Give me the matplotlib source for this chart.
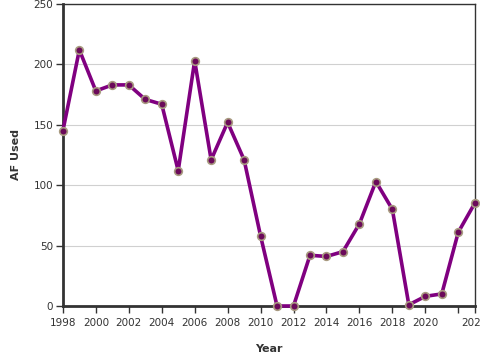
import matplotlib.pyplot as plt

years = list(range(1998, 2024))
af_used = [145, 212, 178, 183, 183, 171, 167, 112, 203, 121, 152, 121, 58,
           0, 0, 42, 41, 45, 68, 103, 80, 1, 8, 10, 61, 85]

xticks = list(range(1998, 2024, 2)) + [2023]
xtick_labels = [str(y) for y in range(1998, 2022, 2)] + ["", "2023"]
yticks = [0, 50, 100, 150, 200, 250]

fig = plt.figure(figsize=(4.8, 3.6), dpi=100)
ax = fig.add_axes([0.131, 0.15, 0.858, 0.839])

ax.plot(years, af_used, color="#800080", lw=2.6, zorder=3, clip_on=False)
ax.plot(years, af_used, ls="none", marker="o", ms=5.5, mfc="#6b0a5a",
        mec="#a89a80", mew=1.2, zorder=4, clip_on=False)

ax.set_xlim(1998, 2023)
ax.set_ylim(0, 250)
ax.set_xticks(xticks)
ax.set_xticklabels(xtick_labels)
ax.set_yticks(yticks)
ax.grid(axis="y", color="#d0d0d0", lw=0.8)
ax.set_axisbelow(True)

for side in ["left", "bottom"]:
    ax.spines[side].set_linewidth(2)
    ax.spines[side].set_color("#333333")
for side in ["top", "right"]:
    ax.spines[side].set_linewidth(1)
    ax.spines[side].set_color("#333333")

ax.tick_params(labelsize=7.5, length=5, width=1, color="#333333",
               labelcolor="#333333")
ax.tick_params(axis="x", pad=4)
ax.tick_params(axis="y", pad=2)
ax.set_xlabel("Year", fontsize=8, fontweight="bold", color="#333333", labelpad=11)
ax.set_ylabel("AF Used", fontsize=8, fontweight="bold", color="#333333", labelpad=9)

fig.savefig("out.png", dpi=100)
